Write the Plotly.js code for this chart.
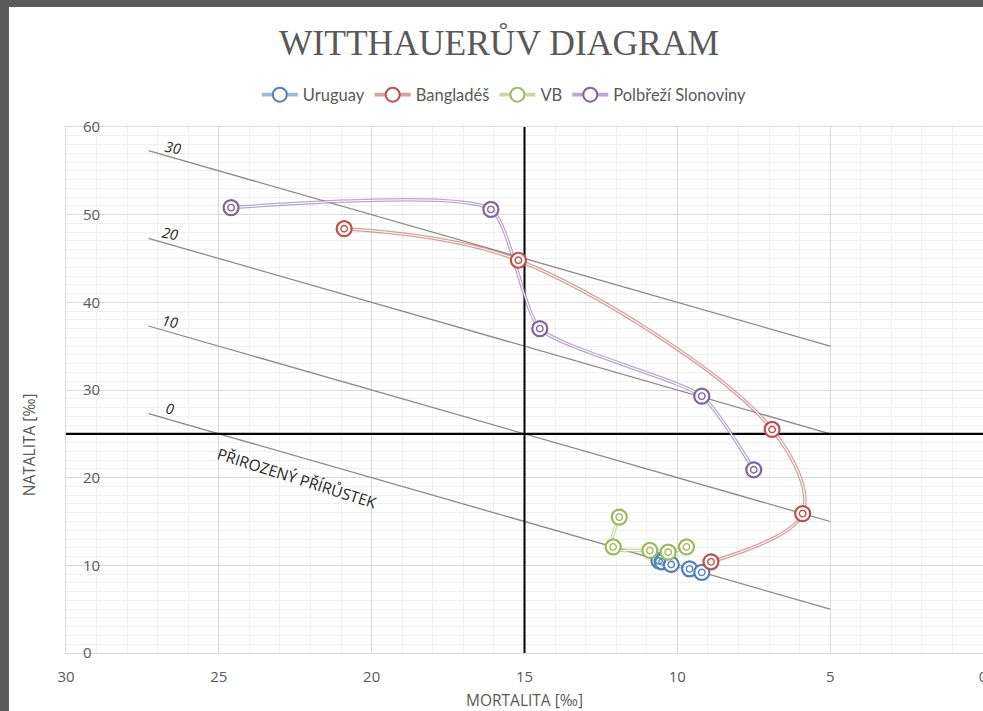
<!DOCTYPE html>
<html>
<head>
<meta charset="utf-8">
<script src="https://cdn.plot.ly/plotly-3.0.1.min.js"></script>
<style>
  html, body { margin: 0; padding: 0; background: #5b5b5b; width: 983px; height: 711px; overflow: hidden; }
  #chart { position: absolute; left: 9px; top: 7px; width: 974px; height: 704px; background: #ffffff; }
</style>
</head>
<body>
<div id="chart"></div>
<script>
// ---- Data (mortality ‰ on x, natality ‰ on y) ----
const seriesNames = ["Uruguay", "Bangladéš", "VB", "Polbřeží Slonoviny"];

const uruguayMort = [10.6, 10.5, 10.2, 9.6, 9.2];
const uruguayNat  = [10.5, 10.4, 10.1, 9.6, 9.2];

const bangladeshMort = [20.9, 15.2, 6.9, 5.9, 8.9];
const bangladeshNat  = [48.4, 44.8, 25.5, 15.9, 10.4];

const vbMort = [11.9, 12.1, 10.9, 10.3, 9.7];
const vbNat  = [15.5, 12.1, 11.7, 11.5, 12.1];

const civMort = [24.6, 16.1, 14.5, 9.2, 7.5];
const civNat  = [50.8, 50.6, 37.0, 29.3, 20.9];

// natural increase reference lines (natality - mortality = level)
const increaseLevels = ["0", "10", "20", "30"];
const increaseMort   = [27.3, 5];
const increaseNat0   = [27.3, 5];
const increaseNat10  = [37.3, 15];
const increaseNat20  = [47.3, 25];
const increaseNat30  = [57.3, 35];

// cross lines
const crossVertMort = [15, 15];
const crossVertNat  = [0, 60];
const crossHorzMort = [30, 0];
const crossHorzNat  = [25, 25];

// label positions for increase levels
const levelLabelMort = [26.6, 26.6, 26.6, 26.5];
const levelLabelNat  = [27.9, 37.8, 47.8, 57.7];

const colors = ["#4f81bd", "#c0504d", "#9bbb59", "#8064a2"];
const lightColors = ["rgba(79,129,189,0.55)", "rgba(192,80,77,0.55)", "rgba(155,187,89,0.55)", "rgba(128,100,162,0.55)"];
const smooth = [1, 1, 1, 0.55];

const seriesX = [uruguayMort, bangladeshMort, vbMort, civMort];
const seriesY = [uruguayNat, bangladeshNat, vbNat, civNat];

const traces = [];

const incNat = [increaseNat0, increaseNat10, increaseNat20, increaseNat30];
incNat.forEach(function (ny) {
  traces.push({
    x: increaseMort, y: ny, mode: "lines", type: "scatter",
    line: { color: "#8a8a8a", width: 1.3 }, showlegend: false, hoverinfo: "skip"
  });
});
traces.push({ x: crossVertMort, y: crossVertNat, mode: "lines", type: "scatter",
  line: { color: "#000000", width: 2 }, showlegend: false, hoverinfo: "skip" });
traces.push({ x: crossHorzMort, y: crossHorzNat, mode: "lines", type: "scatter",
  line: { color: "#000000", width: 2.4 }, showlegend: false, hoverinfo: "skip" });

for (let i = 0; i < 4; i++) {
  traces.push({
    x: seriesX[i], y: seriesY[i], name: seriesNames[i], type: "scatter",
    mode: "lines+markers",
    line: { color: lightColors[i], width: 3.6, shape: "spline", smoothing: smooth[i] },
    marker: { symbol: "circle", size: 14, color: "#ffffff", line: { color: colors[i], width: 2 } }
  });
  traces.push({
    x: seriesX[i], y: seriesY[i], type: "scatter", mode: "lines", showlegend: false, hoverinfo: "skip",
    line: { color: "#ffffff", width: 1.1, shape: "spline", smoothing: smooth[i] }
  });
}
for (let i = 0; i < 4; i++) {
  traces.push({
    x: seriesX[i], y: seriesY[i], type: "scatter", mode: "markers", showlegend: false,
    marker: { symbol: "circle", size: 15, color: "#ffffff", line: { color: colors[i], width: 2.2 } }
  });
  traces.push({
    x: seriesX[i], y: seriesY[i], type: "scatter", mode: "markers", showlegend: false, hoverinfo: "skip",
    marker: { symbol: "circle-open", size: 6.5, color: colors[i], line: { color: colors[i], width: 1.4 } }
  });
}

const annotations = [];
for (let k = 0; k < increaseLevels.length; k++) {
  annotations.push({
    x: levelLabelMort[k], y: levelLabelNat[k], xref: "x", yref: "y",
    text: increaseLevels[k], showarrow: false, textangle: 10,
    font: { family: "Open Sans, DejaVu Sans", size: 14.5, color: "#262626", style: "italic" }
  });
}
annotations.push({
  x: 22.45, y: 20.0, xref: "x", yref: "y", text: "PŘIROZENÝ PŘÍRŮSTEK", showarrow: false,
  textangle: 17.5, font: { family: "Open Sans, DejaVu Sans", size: 15.5, color: "#262626" }
});
annotations.push({
  x: -0.0403, y: 0.395, xref: "paper", yref: "paper", text: "NATALITA [‰]", showarrow: false,
  textangle: -90, xanchor: "center", yanchor: "middle",
  font: { family: "Open Sans, DejaVu Sans", size: 15.5, color: "#595959" }
});
annotations.push({
  x: 0.4995, y: -0.0894, xref: "paper", yref: "paper", text: "MORTALITA [‰]", showarrow: false,
  xanchor: "center", yanchor: "middle",
  font: { family: "Open Sans, DejaVu Sans", size: 15.5, color: "#595959" }
});

const layout = {
  width: 974, height: 704,
  margin: { l: 57, r: 0, t: 120, b: 58, pad: 0 },
  paper_bgcolor: "#ffffff", plot_bgcolor: "#ffffff",
  title: {
    text: "WITTHAUERŮV DIAGRAM", xref: "container", yref: "container",
    x: 0.503, y: 0.949, xanchor: "center", yanchor: "middle",
    font: { family: "Liberation Serif, DejaVu Serif, serif", size: 35.5, color: "#595959" }
  },
  showlegend: true,
  legend: {
    orientation: "h", x: 0.478, xanchor: "center", y: 1.061, yanchor: "middle",
    font: { family: "Lato, Liberation Sans", size: 16.5, color: "#595959" },
    itemwidth: 36,
    bgcolor: "rgba(0,0,0,0)", itemclick: false
  },
  xaxis: {
    range: [30, 0], dtick: 5, tick0: 0, showgrid: true, gridcolor: "#d9d9d9", gridwidth: 1,
    zeroline: false, showline: true, linecolor: "#d9d9d9", linewidth: 1, mirror: true,
    ticks: "", ticklabelstandoff: 10, ticklabeloverflow: "allow",
    tickfont: { family: "Open Sans, DejaVu Sans", size: 15, color: "#595959" },
    minor: { dtick: 1, showgrid: true, gridcolor: "#f0f0f0", gridwidth: 1 },
    fixedrange: true
  },
  yaxis: {
    range: [0, 60], dtick: 10, tick0: 0, showgrid: true, gridcolor: "#d9d9d9", gridwidth: 1,
    zeroline: false, showline: true, linecolor: "#d9d9d9", linewidth: 1, mirror: true,
    ticks: "", ticklabelposition: "inside", ticklabelstandoff: 17, ticklabeloverflow: "allow",
    tickfont: { family: "Open Sans, DejaVu Sans", size: 15, color: "#595959" },
    minor: { dtick: 1, showgrid: true, gridcolor: "#f0f0f0", gridwidth: 1 },
    fixedrange: true
  },
  annotations: annotations
};

Plotly.newPlot("chart", traces, layout, { displayModeBar: false, staticPlot: true });
</script>
</body>
</html>
